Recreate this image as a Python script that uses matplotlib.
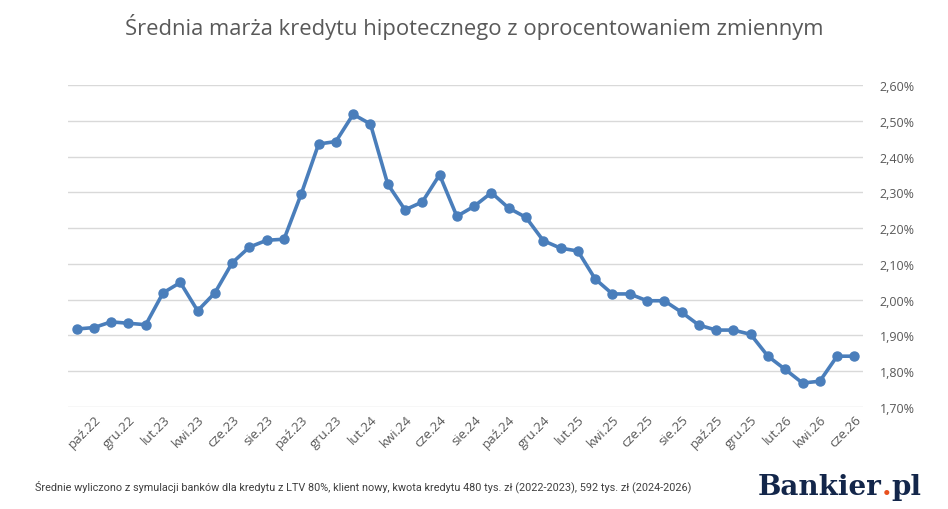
import matplotlib
matplotlib.use("Agg")
import matplotlib.pyplot as plt
from matplotlib.ticker import FuncFormatter

# --- data: average margin of variable-rate mortgage, monthly wrz.22 .. cze.26 ---
months = ["wrz.22", "paź.22", "lis.22", "gru.22",
          "sty.23", "lut.23", "mar.23", "kwi.23", "maj.23", "cze.23",
          "lip.23", "sie.23", "wrz.23", "paź.23", "lis.23", "gru.23",
          "sty.24", "lut.24", "mar.24", "kwi.24", "maj.24", "cze.24",
          "lip.24", "sie.24", "wrz.24", "paź.24", "lis.24", "gru.24",
          "sty.25", "lut.25", "mar.25", "kwi.25", "maj.25", "cze.25",
          "lip.25", "sie.25", "wrz.25", "paź.25", "lis.25", "gru.25",
          "sty.26", "lut.26", "mar.26", "kwi.26", "maj.26", "cze.26"]
margin = [1.918, 1.922, 1.938, 1.934, 1.930, 2.019, 2.048, 1.969, 2.019, 2.103,
          2.147, 2.166, 2.169, 2.296, 2.435, 2.442, 2.518, 2.491, 2.323, 2.251,
          2.273, 2.349, 2.233, 2.261, 2.299, 2.256, 2.230, 2.165, 2.144, 2.136,
          2.058, 2.016, 2.016, 1.997, 1.997, 1.965, 1.929, 1.915, 1.915, 1.903,
          1.842, 1.805, 1.767, 1.772, 1.842, 1.842]
y_ticks = [1.70, 1.80, 1.90, 2.00, 2.10, 2.20, 2.30, 2.40, 2.50, 2.60]

TITLE = "Średnia marża kredytu hipotecznego z oprocentowaniem zmiennym"
NOTE = ("Średnie wyliczono z symulacji banków dla kredytu z LTV 80%, klient nowy, "
        "kwota kredytu 480 tys. zł (2022-2023), 592 tys. zł (2024-2026)")

BLUE = "#4a7ebb"
GREY_TXT = "#595959"
NAVY = "#13264a"
ORANGE = "#e8501e"

fig = plt.figure(figsize=(9.48, 5.10), dpi=100)
ax = fig.add_axes([68 / 948, 1 - 408 / 510, (863 - 68) / 948, 322 / 510])

x = list(range(len(margin)))
ax.plot(x, margin, "-o", color=BLUE, lw=2.6, ms=6.5, zorder=3)

ax.set_xlim(-0.5, len(margin) - 0.5)
ax.set_ylim(y_ticks[0], y_ticks[-1])
ax.set_yticks(y_ticks)
ax.yaxis.tick_right()
ax.yaxis.set_major_formatter(FuncFormatter(lambda v, _: f"{v:.2f}%".replace(".", ",")))
ax.grid(axis="y", color="#d9d9d9", lw=1.0)
ax.set_axisbelow(True)
for sp in ax.spines.values():
    sp.set_visible(False)
ax.tick_params(axis="y", length=0, pad=12, labelsize=9, labelcolor=GREY_TXT)

# every second month labelled, starting with paź.22
lab_idx = x[1::2]
ax.set_xticks(lab_idx)
ax.set_xticklabels([months[i] for i in lab_idx], rotation=45, ha="right", va="top",
                   rotation_mode="anchor", fontsize=9.5, color=GREY_TXT, family="Open Sans")
ax.tick_params(axis="x", length=0, pad=4)
for t in ax.get_yticklabels():
    t.set_family("Open Sans")

fig.text(0.5, 1 - 27 / 510, TITLE, ha="center", va="center", fontsize=15.8,
         color=GREY_TXT, family="Open Sans")
fig.text(35 / 948, 1 - 487 / 510, NOTE, ha="left", va="center", fontsize=7.8,
         color="#404040", family="Roboto")

# Bankier.pl logo as text
fig.canvas.draw()
r = fig.canvas.get_renderer()
base_y = 1 - 495 / 510
logo_kw = dict(ha="left", va="baseline", fontsize=20, family="DejaVu Serif", weight="bold")
t1 = fig.text(758 / 948, base_y, "Bankier", color=NAVY, **logo_kw)
w1 = t1.get_window_extent(r).x1
t2 = fig.text(w1 / 948, base_y, ".", color=ORANGE, **logo_kw)
w2 = t2.get_window_extent(r).x1
fig.text(w2 / 948, base_y, "pl", color=NAVY, **logo_kw)

fig.savefig("out.png", dpi=100)
